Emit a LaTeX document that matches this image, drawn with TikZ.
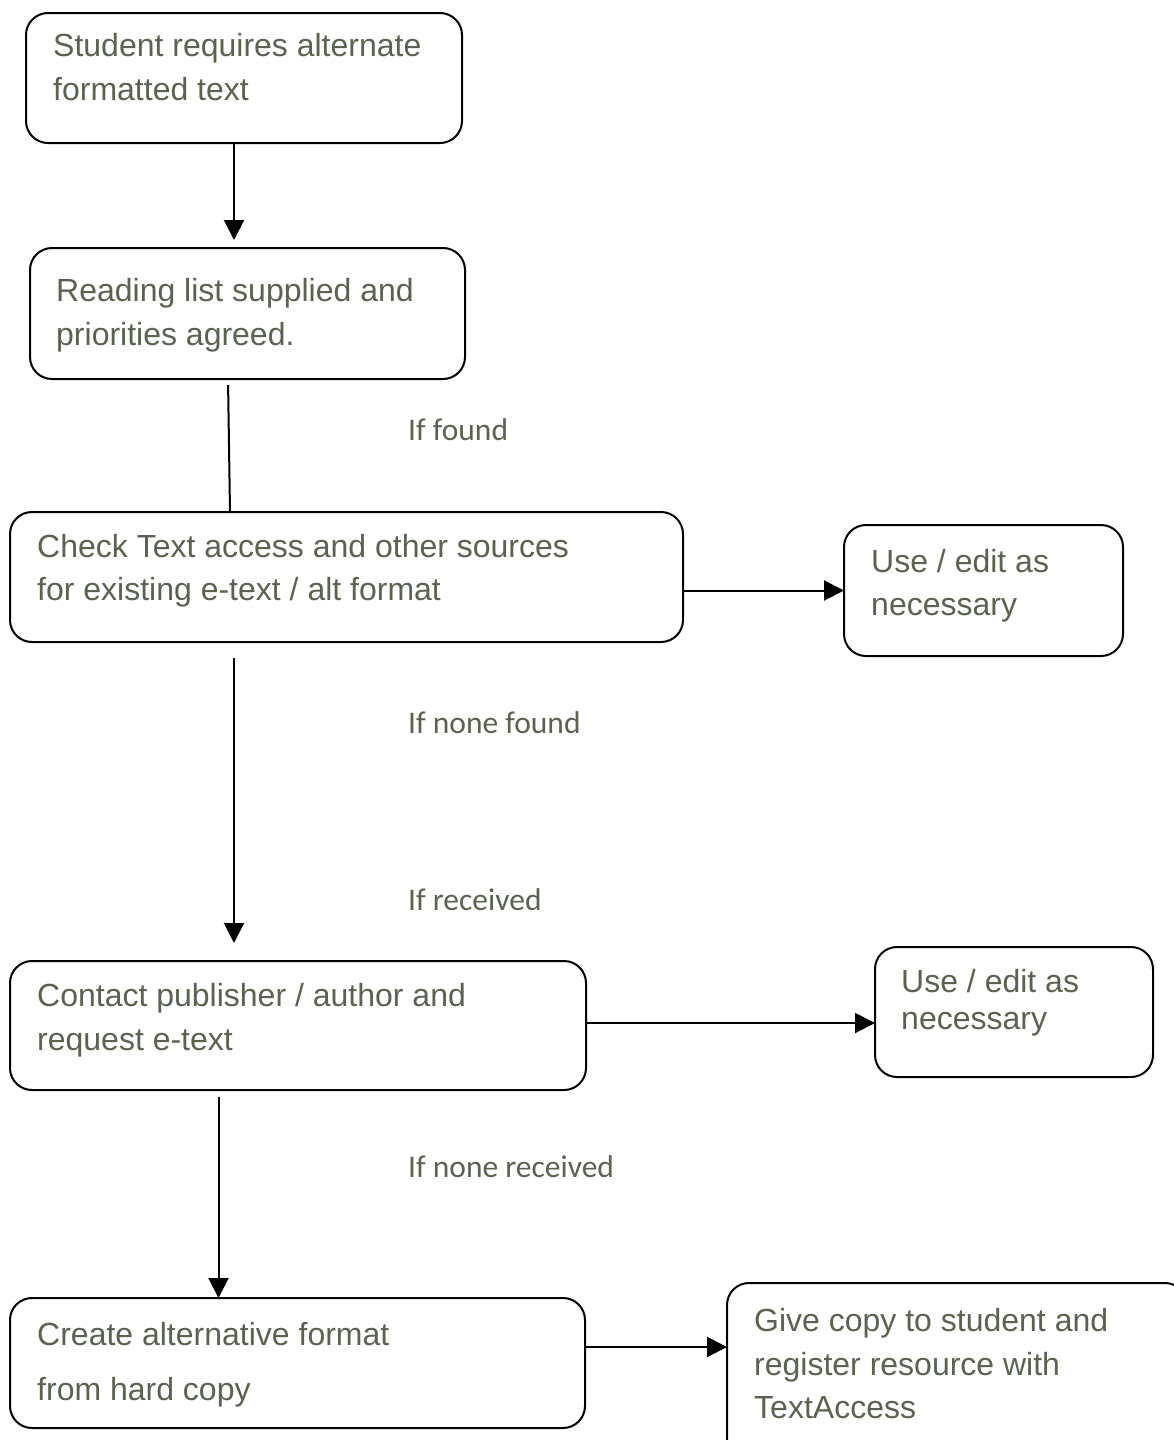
\documentclass[tikz,border=0pt]{standalone}
\usepackage{fontspec}
\usetikzlibrary{arrows.meta}
\newfontfamily\arialf{Liberation Sans}
\newfontfamily\calibf{Carlito}
\definecolor{tc}{RGB}{90,98,80}
\begin{document}
\begin{tikzpicture}[x=1pt,y=-1pt,
  box/.style={draw=black, line width=2pt, rounded corners=22pt, anchor=north west, inner sep=0pt, outer sep=0pt},
  txt/.style={anchor=base west, inner sep=0pt, text=tc, font={\arialf\fontsize{32}{38}\selectfont}},
  lab/.style={anchor=base west, inner sep=0pt, text=tc, font={\calibf\fontsize{31.5}{38}\selectfont}},
  arr/.style={line width=2pt, -{Triangle[length=20pt,width=20pt]}},
  conn/.style={line width=2pt}]
\useasboundingbox (0,0) rectangle (1173,1440);

% boxes
\node[box, minimum width=436pt, minimum height=130pt] (b1) at (26,13) {};
\node[box, minimum width=435pt, minimum height=131pt] (b2) at (30,248) {};
\node[box, minimum width=673pt, minimum height=130pt] (b3) at (10,512) {};
\node[box, minimum width=279pt, minimum height=131pt] (b4) at (844,525) {};
\node[box, minimum width=576pt, minimum height=129pt] (b5) at (10,961) {};
\node[box, minimum width=278pt, minimum height=130pt] (b6) at (875,947) {};
\node[box, minimum width=575pt, minimum height=130pt] (b7) at (10,1298) {};
\node[box, minimum width=460pt, minimum height=200pt] (b8) at (727,1283) {};

% box texts
\node[txt] (t1a) at (53,56) {Student requires alternate};
\node[txt] (t1b) at (53,100) {formatted text};
\node[txt] (t2a) at (56,301) {Reading list supplied and};
\node[txt] (t2b) at (56,345) {priorities agreed.};
\node[txt] (t3a) at (37,557) {Check Text access and other sources};
\node[txt] (t3b) at (37,600) {for existing e-text / alt format};
\node[txt] (t4a) at (871,572) {Use / edit as};
\node[txt] (t4b) at (871,615) {necessary};
\node[txt] (t5a) at (37,1006) {Contact publisher / author and};
\node[txt] (t5b) at (37,1050) {request e-text};
\node[txt] (t6a) at (901,992) {Use / edit as};
\node[txt] (t6b) at (901,1029) {necessary};
\node[txt] (t7a) at (37,1345) {Create alternative format};
\node[txt] (t7b) at (37,1400) {from hard copy};
\node[txt] (t8a) at (754,1331) {Give copy to student and};
\node[txt] (t8b) at (754,1375) {register resource with};
\node[txt] (t8c) at (754,1418) {TextAccess};

% labels
\node[lab] (l1) at (408,440) {If found};
\node[lab] (l2) at (408,733) {If none found};
\node[lab] (l3) at (408,910) {If received};
\node[lab] (l4) at (408,1177) {If none received};

% connectors
\coordinate (c12) at ([xshift=-10pt]b1.south);
\draw[arr, shorten >=8pt] (c12) -- (c12 |- b2.north);

\draw[conn, shorten <=6pt] ([xshift=-19.5pt]b2.south) -- ([xshift=-116.5pt]b3.north);

\coordinate (c34) at (b4.west -| b3.east);
\draw[arr] (c34) -- (b4.west);

\coordinate (c35) at ([xshift=-112.5pt]b3.south);
\draw[arr, shorten <=16pt, shorten >=18pt] (c35) -- (c35 |- b5.north);

\coordinate (c56) at ([yshift=2.5pt]b5.east);
\draw[arr] (c56) -- (c56 -| b6.west);

\coordinate (c57) at ([xshift=-79.5pt]b5.south);
\draw[arr, shorten <=7pt] (c57) -- (c57 |- b7.north);

\coordinate (c78) at ([yshift=16pt]b7.east);
\draw[arr] (c78) -- (c78 -| b8.west);
\end{tikzpicture}
\end{document}
